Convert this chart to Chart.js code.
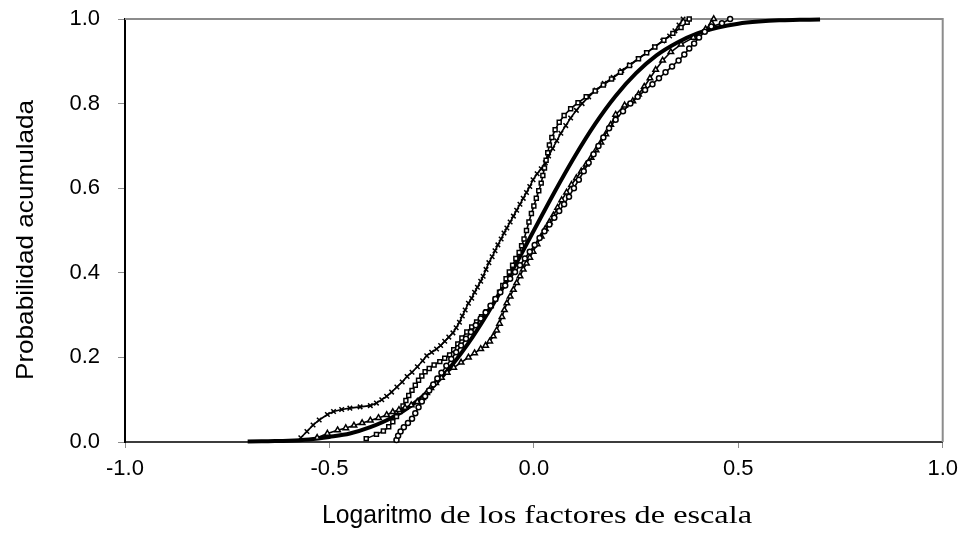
<!DOCTYPE html>
<html lang="es">
<head>
<meta charset="UTF-8">
<title>Probabilidad acumulada</title>
<style>
  html, body { margin: 0; padding: 0; background: #fff; }
  #wrap { width: 966px; height: 533px; }
</style>
</head>
<body>
<div id="wrap"><canvas id="grafico" width="966" height="533"></canvas></div>
<script src="https://cdn.jsdelivr.net/npm/chart.js"></script>
<script>
// ticks of the axes
const ticksX = [-1.0, -0.5, 0.0, 0.5, 1.0];
const ticksY = [0.0, 0.2, 0.4, 0.6, 0.8, 1.0];

const tituloY = 'Probabilidad acumulada';
const tituloX1 = 'Logaritmo';
const tituloX2 = ' de los factores de escala';

const cruzX = [-0.570, -0.555, -0.540, -0.525, -0.505, -0.490, -0.470, -0.450, -0.425, -0.400,
  -0.385, -0.372, -0.360, -0.348, -0.335, -0.322, -0.310, -0.298, -0.285, -0.272,
  -0.262, -0.250, -0.238, -0.228, -0.218, -0.208, -0.198, -0.190, -0.182, -0.175,
  -0.168, -0.160, -0.152, -0.145, -0.138, -0.130, -0.124, -0.117, -0.110, -0.102,
  -0.095, -0.088, -0.080, -0.073, -0.066, -0.058, -0.050, -0.042, -0.034, -0.026,
  -0.018, -0.010, -0.002, 0.008, 0.018, 0.028, 0.036, 0.046, 0.056, 0.066,
  0.078, 0.090, 0.104, 0.118, 0.134, 0.152, 0.172, 0.194, 0.215, 0.235,
  0.255, 0.275, 0.295, 0.315, 0.332, 0.345, 0.355, 0.365];
const cruzY = [0.010, 0.025, 0.040, 0.052, 0.065, 0.072, 0.077, 0.080, 0.083, 0.086,
  0.092, 0.100, 0.108, 0.118, 0.130, 0.142, 0.155, 0.165, 0.178, 0.192,
  0.204, 0.212, 0.220, 0.228, 0.238, 0.248, 0.258, 0.270, 0.283, 0.298,
  0.312, 0.328, 0.340, 0.354, 0.366, 0.380, 0.392, 0.408, 0.424, 0.438,
  0.452, 0.466, 0.480, 0.494, 0.506, 0.520, 0.534, 0.548, 0.562, 0.576,
  0.590, 0.604, 0.620, 0.634, 0.646, 0.660, 0.676, 0.694, 0.712, 0.730,
  0.748, 0.766, 0.784, 0.800, 0.816, 0.832, 0.848, 0.862, 0.878, 0.892,
  0.906, 0.920, 0.934, 0.948, 0.960, 0.972, 0.986, 1.000];

const cuadX = [-0.410, -0.385, -0.368, -0.355, -0.345, -0.336, -0.328, -0.320, -0.313, -0.306,
  -0.298, -0.290, -0.282, -0.274, -0.266, -0.256, -0.244, -0.230, -0.218, -0.206,
  -0.196, -0.186, -0.176, -0.164, -0.152, -0.140, -0.128, -0.116, -0.104, -0.094,
  -0.084, -0.076, -0.068, -0.060, -0.052, -0.044, -0.036, -0.030, -0.024, -0.018,
  -0.012, -0.006, 0.000, 0.006, 0.012, 0.018, 0.022, 0.026, 0.030, 0.034,
  0.038, 0.044, 0.052, 0.062, 0.074, 0.090, 0.108, 0.128, 0.150, 0.170,
  0.190, 0.212, 0.234, 0.256, 0.276, 0.296, 0.318, 0.340, 0.360, 0.375, 0.380];
const cuadY = [0.008, 0.018, 0.026, 0.036, 0.048, 0.060, 0.072, 0.085, 0.098, 0.110,
  0.122, 0.134, 0.146, 0.156, 0.166, 0.174, 0.182, 0.190, 0.198, 0.206,
  0.218, 0.232, 0.246, 0.260, 0.272, 0.284, 0.296, 0.308, 0.322, 0.338,
  0.354, 0.370, 0.386, 0.402, 0.418, 0.434, 0.448, 0.464, 0.480, 0.500,
  0.520, 0.540, 0.558, 0.576, 0.594, 0.612, 0.630, 0.648, 0.666, 0.684,
  0.702, 0.720, 0.738, 0.756, 0.772, 0.788, 0.802, 0.816, 0.830, 0.844,
  0.858, 0.874, 0.890, 0.906, 0.920, 0.934, 0.950, 0.966, 0.980, 0.992, 1.000];

const triX = [-0.530, -0.505, -0.480, -0.460, -0.440, -0.420, -0.400, -0.380, -0.360, -0.345,
  -0.330, -0.315, -0.300, -0.285, -0.272, -0.262, -0.252, -0.240, -0.226, -0.212,
  -0.196, -0.178, -0.160, -0.145, -0.130, -0.118, -0.108, -0.099, -0.091, -0.084,
  -0.078, -0.072, -0.066, -0.058, -0.050, -0.042, -0.034, -0.026, -0.018, -0.010,
  -0.002, 0.008, 0.018, 0.028, 0.038, 0.048, 0.058, 0.068, 0.080, 0.092,
  0.104, 0.116, 0.128, 0.140, 0.152, 0.164, 0.176, 0.188, 0.200, 0.222,
  0.242, 0.256, 0.270, 0.284, 0.298, 0.315, 0.335, 0.360, 0.390, 0.420,
  0.435, 0.440];
const triY = [0.010, 0.020, 0.028, 0.033, 0.039, 0.045, 0.051, 0.057, 0.064, 0.071,
  0.076, 0.081, 0.087, 0.095, 0.104, 0.116, 0.128, 0.140, 0.152, 0.164,
  0.176, 0.188, 0.200, 0.210, 0.220, 0.228, 0.238, 0.250, 0.264, 0.280,
  0.296, 0.312, 0.328, 0.344, 0.360, 0.376, 0.392, 0.408, 0.422, 0.436,
  0.450, 0.468, 0.486, 0.504, 0.520, 0.536, 0.554, 0.572, 0.590, 0.608,
  0.624, 0.640, 0.656, 0.672, 0.690, 0.708, 0.728, 0.750, 0.774, 0.796,
  0.806, 0.822, 0.840, 0.860, 0.880, 0.902, 0.922, 0.940, 0.956, 0.976,
  0.990, 1.000];

const circX = [-0.336, -0.332, -0.326, -0.318, -0.308, -0.298, -0.290, -0.282, -0.274, -0.266,
  -0.256, -0.246, -0.236, -0.226, -0.214, -0.202, -0.190, -0.178, -0.166, -0.154,
  -0.142, -0.130, -0.118, -0.106, -0.094, -0.082, -0.070, -0.058, -0.046, -0.034,
  -0.022, -0.010, 0.002, 0.014, 0.026, 0.038, 0.050, 0.062, 0.074, 0.086,
  0.098, 0.110, 0.122, 0.134, 0.146, 0.158, 0.170, 0.184, 0.200, 0.218,
  0.236, 0.254, 0.272, 0.290, 0.306, 0.322, 0.338, 0.354, 0.368, 0.380,
  0.392, 0.404, 0.418, 0.434, 0.460, 0.480];
const circY = [0.005, 0.015, 0.025, 0.035, 0.045, 0.055, 0.068, 0.082, 0.096, 0.108,
  0.122, 0.136, 0.150, 0.164, 0.180, 0.196, 0.212, 0.228, 0.244, 0.260,
  0.276, 0.292, 0.306, 0.322, 0.338, 0.354, 0.370, 0.386, 0.402, 0.418,
  0.434, 0.450, 0.466, 0.482, 0.498, 0.514, 0.530, 0.546, 0.562, 0.580,
  0.600, 0.620, 0.640, 0.660, 0.680, 0.700, 0.720, 0.742, 0.762, 0.782,
  0.800, 0.816, 0.832, 0.846, 0.860, 0.874, 0.888, 0.902, 0.916, 0.930,
  0.942, 0.956, 0.970, 0.982, 0.990, 1.000];

// smooth fitted curve
const curvaX = [-0.70, -0.65, -0.60, -0.55, -0.50, -0.45, -0.40, -0.35, -0.30, -0.25, -0.20, -0.15, -0.10, -0.05, 0.00, 0.05, 0.10, 0.15, 0.20, 0.25, 0.30, 0.35, 0.40, 0.45, 0.50, 0.55, 0.60, 0.65, 0.70];
const curvaY = [0.001, 0.002, 0.003, 0.006, 0.012, 0.020, 0.035, 0.056, 0.086, 0.128, 0.182, 0.248, 0.325, 0.410, 0.500, 0.590, 0.675, 0.752, 0.818, 0.872, 0.914, 0.944, 0.966, 0.980, 0.989, 0.994, 0.997, 0.998, 0.999];

const pares = (xs, ys) => xs.map((x, i) => ({ x: x, y: ys[i] }));

function serie(xs, ys, forma, radio) {
  return {
    data: pares(xs, ys),
    showLine: true,
    borderColor: '#000',
    borderWidth: 1.6,
    pointStyle: forma,
    pointRadius: radio,
    pointBorderColor: '#000',
    pointBackgroundColor: '#fff',
    pointBorderWidth: 1.5,
    clip: false
  };
}

// text squeezed/stretched to a given length
function textoAncho(ctx, texto, x, y, ancho, giro) {
  const w = ctx.measureText(texto).width;
  ctx.save();
  ctx.translate(x, y);
  if (giro) ctx.rotate(-Math.PI / 2);
  ctx.scale(ancho / w, 1);
  ctx.fillText(texto, 0, 0);
  ctx.restore();
}

// gray top/right frame and the axis titles
const marco = {
  id: 'marco',
  beforeDatasetsDraw(chart) {
    const { ctx, chartArea: a } = chart;
    ctx.save();
    ctx.strokeStyle = '#8c8c8c';
    ctx.lineWidth = 2;
    ctx.beginPath();
    ctx.moveTo(a.left, a.top);
    ctx.lineTo(a.right, a.top);
    ctx.lineTo(a.right, a.bottom);
    ctx.stroke();
    ctx.restore();
  },
  afterDraw(chart) {
    const { ctx } = chart;
    ctx.save();
    ctx.fillStyle = '#000';
    ctx.textBaseline = 'alphabetic';
    ctx.textAlign = 'left';
    ctx.font = '24px "Liberation Sans", Arial, sans-serif';
    textoAncho(ctx, tituloY, 33, 380, 280, true);
    ctx.font = '26px "Liberation Sans Narrow", "Liberation Sans", Arial, sans-serif';
    textoAncho(ctx, tituloX1, 322, 523, 110, false);
    ctx.font = '26px "Liberation Serif", "Times New Roman", serif';
    textoAncho(ctx, tituloX2, 432, 523, 320, false);
    ctx.restore();
  }
};

const fuente = { family: '"Liberation Sans", Arial, sans-serif', size: 22 };

new Chart(document.getElementById('grafico'), {
  type: 'scatter',
  data: {
    datasets: [
      serie(circX, circY, 'circle', 2.5),
      serie(triX, triY, 'triangle', 3.2),
      serie(cuadX, cuadY, 'rect', 2.8),
      serie(cruzX, cruzY, 'crossRot', 3.2),
      {
        data: pares(curvaX, curvaY),
        showLine: true,
        borderColor: '#000',
        borderWidth: 4,
        pointRadius: 0,
        cubicInterpolationMode: 'monotone',
        clip: false
      }
    ]
  },
  options: {
    responsive: false,
    animation: false,
    layout: { padding: { top: 19, right: 22, left: 0, bottom: 0 } },
    plugins: { legend: { display: false }, tooltip: { enabled: false } },
    scales: {
      x: {
        type: 'linear',
        min: -1, max: 1,
        afterBuildTicks: s => { s.ticks = ticksX.map(v => ({ value: v })); },
        afterFit: s => { s.height = 91; },
        grid: { drawOnChartArea: false, tickLength: 6, tickColor: '#8c8c8c', tickWidth: 1 },
        border: { color: '#3c3c3c', width: 2 },
        ticks: { color: '#000', font: fuente, padding: 8, maxRotation: 0, callback: v => v.toFixed(1) }
      },
      y: {
        min: 0, max: 1,
        afterBuildTicks: s => { s.ticks = ticksY.map(v => ({ value: v })); },
        afterFit: s => { s.width = 125; s.paddingTop = 0; s.paddingBottom = 0; },
        grid: { drawOnChartArea: false, tickLength: 7, tickColor: '#8c8c8c', tickWidth: 1 },
        border: { color: '#000', width: 2 },
        ticks: { color: '#000', font: fuente, padding: 18, callback: v => v.toFixed(1) }
      }
    }
  },
  plugins: [marco]
});
</script>
</body>
</html>
